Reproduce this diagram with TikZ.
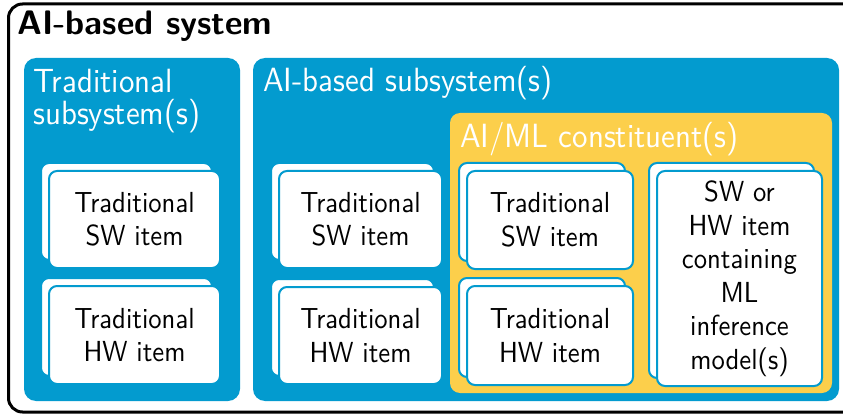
\documentclass[tikz,border=0pt]{standalone}
\usepackage{fontspec}
\setsansfont{lmsans10-regular.otf}[FakeStretch=0.92, BoldFont=lmsans10-bold.otf,
  BoldFeatures={FakeStretch=1}]
\renewcommand\familydefault{\sfdefault}
\definecolor{tealblue}{HTML}{039BCF}
\definecolor{sunyellow}{HTML}{FCCF4B}

\tikzset{
  group/.style={fill=tealblue, rounded corners=12pt},
  constituent/.style={fill=sunyellow, rounded corners=10pt},
  cardback/.style={draw=tealblue, line width=2pt, fill=white, rounded corners=8pt},
  card/.style={cardback, inner sep=0pt, align=center,
    font=\fontsize{29}{33.5}\selectfont},
  grouptitle/.style={text=white, inner sep=0pt, align=left,
    font=\fontsize{33.6}{32}\selectfont},
}

% stacked item cards: a back card offset up-left, then the labelled front card
\newcommand\itemcard[6]{%
  \draw[cardback] (#2-8,#3-7) rectangle (#4-8,#5-7);
  \node[card, minimum width=#4-#2, minimum height=#5-#3]
    (#1) at ({(#2+#4)/2},{(#3+#5)/2+1}) {#6};
}

\begin{document}
\begin{tikzpicture}[x=1pt,y=-1pt]
\useasboundingbox (0,0) rectangle (843,414);

% outer frame of the whole system
\draw[line width=3pt, rounded corners=14pt] (8.5,4) rectangle (860,412);
\node[anchor=base west, inner sep=0pt, font=\fontsize{34}{36}\selectfont\bfseries]
  (systitle) at (17,35) {AI-based system};

% subsystem areas
\fill[group] (24,58) rectangle (240,401);
\fill[group] (253,58) rectangle (839,401);
\fill[constituent] (450,113) rectangle (832,393);

\node[grouptitle, anchor=north west] (tradtitle) at (33,69) {Traditional\\subsystem(s)};
\node[grouptitle, anchor=base west] (aititle) at (263,92) {AI-based subsystem(s)};
\node[grouptitle, anchor=base west] (mltitle) at (460,148) {AI/ML constituent(s)};

\itemcard{lsw}{49}{170}{220}{267}{Traditional\\SW item}
\itemcard{lhw}{49}{285}{220}{383}{Traditional\\HW item}
\itemcard{msw}{279}{170}{442}{267}{Traditional\\SW item}
\itemcard{mhw}{279}{286}{442}{383}{Traditional\\HW item}
\itemcard{ysw}{467}{170}{633}{268}{Traditional\\SW item}
\itemcard{yhw}{467}{285}{633}{384}{Traditional\\HW item}
\itemcard{yml}{657}{170}{822}{385}{SW or\\HW item\\containing\\ML\\inference\\model(s)}
\end{tikzpicture}
\end{document}
